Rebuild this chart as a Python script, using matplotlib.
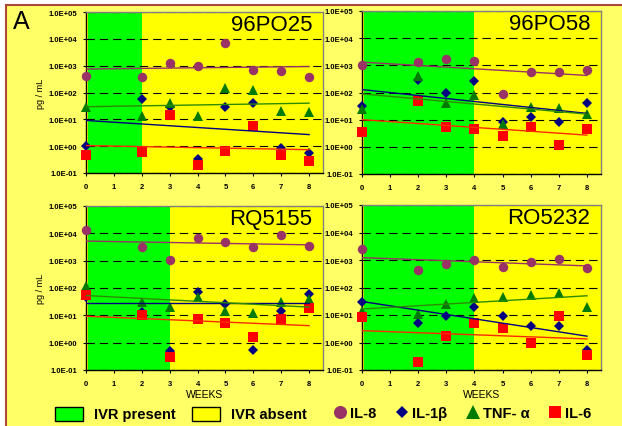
import matplotlib
matplotlib.use("Agg")
import matplotlib.pyplot as plt
import matplotlib.ticker as mticker
from matplotlib.patches import Patch, Rectangle
from matplotlib.lines import Line2D

# sampling weeks (no sample at week 1)
WEEKS = [0, 2, 3, 4, 5, 6, 7, 8]
TREND_WEEKS = [0, 8]

PANELS = ["96PO25", "96PO58", "RQ5155", "RO5232"]
IVR_END = [2, 4, 3, 4]  # last week with the ring in place

# pg/mL per panel
IL8 = {
    "96PO25": [420, 380, 1230, 1000, 7200, 690, 650, 380],
    "96PO58": [1050, 1380, 1650, 1480, 89, 590, 590, 650],
    "RQ5155": [12900, 3150, 1100, 6700, 5000, 3150, 8400, 3300],
    "RO5232": [2600, 425, 700, 980, 535, 880, 1070, 515],
}
IL1B = {
    "96PO25": [1.0, 56, 29, 0.33, 29, 40, 0.85, 0.56],
    "96PO58": [33, 300, 97, 260, 8.5, 13, 8.5, 40],
    "RQ5155": [45, 13, 0.51, 70, 25, 0.54, 15, 58],
    "RO5232": [29, 5.1, 8.9, 19, 9.4, 4.1, 3.9, 0.54],
}
TNF = {
    "96PO25": [30, 13.5, 40, 13, 145, 125, 21, 18],
    "96PO58": [25, 400, 42, 82, 7, 29, 27, 16],
    "RQ5155": [123, 32, 20, 46, 14, 12.3, 32, 40],
    "RO5232": [14, 10.8, 25, 43, 47, 53, 63, 19],
}
IL6 = {
    "96PO25": [0.45, 0.63, 14.5, 0.2, 0.68, 5.5, 0.47, 0.28],
    "96PO58": [3.6, 48, 5.2, 4.6, 2.6, 5.4, 1.2, 4.4],
    "RQ5155": [56, 10.3, 0.31, 7.4, 5.1, 1.65, 7.4, 18.6],
    "RO5232": [8.7, 0.2, 1.7, 5.0, 3.4, 0.95, 9.1, 0.36],
}

# trend line values at week 0 and week 8
IL8_TREND = {"96PO25": [750, 930], "96PO58": [1310, 425], "RQ5155": [5200, 3800], "RO5232": [1220, 610]}
IL1B_TREND = {"96PO25": [9.1, 2.7], "96PO58": [128, 17], "RQ5155": [28, 28], "RO5232": [31, 1.7]}
TNF_TREND = {"96PO25": [29.5, 40], "96PO58": [89, 16], "RQ5155": [53, 20], "RO5232": [16.5, 50]}
IL6_TREND = {"96PO25": [1.05, 0.74], "96PO58": [10, 2.7], "RQ5155": [9.3, 4.2], "RO5232": [2.7, 1.35]}

plt.rcParams['font.family'] = ['Liberation Sans', 'DejaVu Sans']
plt.rcParams['font.weight'] = 'bold'

W, H = 622, 427
C_IL8, C_IL1B, C_TNF, C_IL6 = '#993366', '#000080', '#007A00', '#FF0000'
SERIES = [
    (IL8, IL8_TREND, 'o', 6.8, C_IL8, '#993366'),
    (IL1B, IL1B_TREND, 'D', 4.6, C_IL1B, '#000080'),
    (TNF, TNF_TREND, '^', 7.3, C_TNF, '#2E8B00'),
    (IL6, IL6_TREND, 's', 6.7, C_IL6, '#FF2A00'),
]

# axes boxes in pixels: left, top, right, bottom
BOXES = [(86, 13, 323, 174), (362, 12, 601, 175),
         (86, 207, 323, 371), (362, 206, 601, 371)]


def px_rect(l, t, r, b):
    return [l / W, 1 - b / H, (r - l) / W, (b - t) / H]


fig = plt.figure(figsize=(W / 100, H / 100), dpi=100)
fig.patch.set_facecolor('white')
fig.add_artist(Rectangle((5.5 / W, -0.05), 1.1, 1.05 - 5.5 / H, transform=fig.transFigure,
                         facecolor='#FFFF66', edgecolor='#B0483A', lw=1.5, zorder=-10))

for i, name in enumerate(PANELS):
    ax = fig.add_axes(px_rect(*BOXES[i]))
    ax.set_facecolor('#FFFF00')
    ax.set_yscale('log')
    ax.set_ylim(0.1, 1e5)
    ax.set_xlim(0, 8.5)
    ax.axvspan(0.08, IVR_END[i], color='#00FF00', lw=0, zorder=0.2)
    ax.set_axisbelow(True)
    ax.grid(axis='y', color='black', lw=0.8, linestyle=(0, (7.5, 4.5)))

    for vals, trend, mk, ms, col, lcol in SERIES:
        ax.plot(WEEKS, vals[name], mk, color=col, ms=ms, mew=0, clip_on=False, zorder=3)
    for vals, trend, mk, ms, col, lcol in SERIES:
        ax.plot(TREND_WEEKS, trend[name], '-', color=lcol, lw=1, zorder=4)

    ax.set_xticks(range(9))
    ax.yaxis.set_major_locator(mticker.LogLocator(base=10, numticks=10))
    ax.yaxis.set_minor_locator(mticker.NullLocator())
    ax.yaxis.set_major_formatter(mticker.FuncFormatter(lambda v, p: f"{v:.1E}"))
    ax.tick_params(axis='both', labelsize=5.5, length=2.5, width=0.8, direction='out')
    ax.tick_params(axis='x', pad=4.5)
    ax.tick_params(axis='y', pad=3.5)

    for s in ['left', 'bottom']:
        ax.spines[s].set_color('black')
        ax.spines[s].set_linewidth(1)
    for s in ['top', 'right']:
        ax.spines[s].set_color('#808080')
        ax.spines[s].set_linewidth(1)

    if i % 2 == 0:
        ax.set_ylabel('pg / mL', fontsize=6.5, labelpad=3)
    if i >= 2:
        ax.set_xlabel('WEEKS', fontsize=7.5, labelpad=2)

    ax.text(0.955, 0.99, name, transform=ax.transAxes, ha='right', va='top',
            fontsize=16, fontweight='normal', zorder=5)

fig.text(13 / W, 1 - 10 / H, 'A', fontsize=18, fontweight='normal', va='top', ha='left')

box_handles = [Patch(facecolor='#00FF00', edgecolor='black', lw=1),
               Patch(facecolor='#FFFF00', edgecolor='black', lw=1)]
fig.legend(handles=box_handles, labels=['IVR present', 'IVR absent'],
           loc='center left', bbox_to_anchor=(55 / W, 1 - 415 / H), ncol=2,
           frameon=False, fontsize=10.5, handlelength=1.9, handleheight=1.1,
           handletextpad=0.8, columnspacing=1.1, borderpad=0, borderaxespad=0)

mk_handles = [Line2D([], [], ls='none', marker='o', color=C_IL8, ms=9.4, mew=0),
              Line2D([], [], ls='none', marker='D', color=C_IL1B, ms=6.6, mew=0),
              Line2D([], [], ls='none', marker='^', color=C_TNF, ms=10.5, mew=0),
              Line2D([], [], ls='none', marker='s', color=C_IL6, ms=8.6, mew=0)]
fig.legend(handles=mk_handles, labels=['IL-8', 'IL-1β', 'TNF- α', 'IL-6'],
           loc='center left', bbox_to_anchor=(333 / W, 1 - 414 / H), ncol=4,
           frameon=False, fontsize=10.5, handlelength=1.0, handletextpad=0.15,
           columnspacing=1.3, borderpad=0, borderaxespad=0)

fig.savefig('out.png', dpi=100)
